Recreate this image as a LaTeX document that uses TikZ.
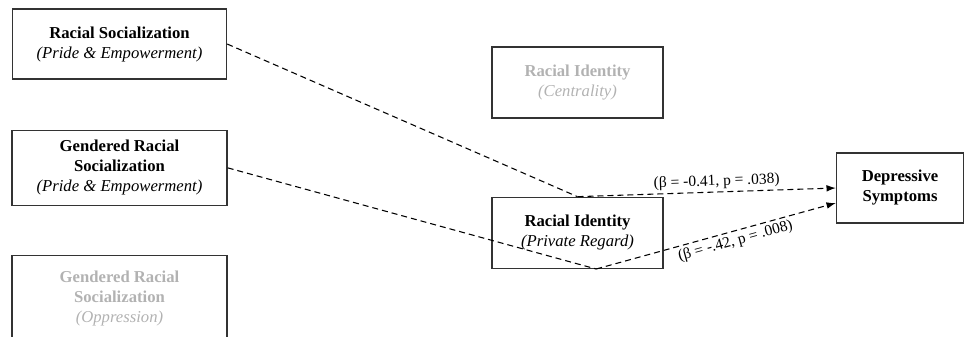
\documentclass[tikz,border=0pt]{standalone}
\usepackage{fontspec}
\setmainfont{Liberation Serif}
\usetikzlibrary{arrows.meta, positioning}

\begin{document}
\begin{tikzpicture}[
    x=0.75pt, y=-0.75pt,
    every node/.style={font=\fontsize{12.5}{15}\selectfont, align=center, inner sep=2pt},
    var/.style={draw=black!80, line width=1pt, minimum height=52.5pt},
    faded/.style={text=black!30},
    link/.style={dash pattern=on 4.5pt off 3pt, line width=0.8pt},
    effect/.style={link, -{Latex[length=7pt, width=5pt]}},
    coef/.style={font=\fontsize{11.6}{14}\selectfont, sloped},
]
\useasboundingbox (0,0) rectangle (966,336);
\clip (0,0) rectangle (966,336);

% Predictors
\node[var, minimum width=160.5pt] (racsoc) at (119.5,44)
    {\textbf{Racial Socialization}\\\textit{(Pride \& Empowerment)}};
\node[var, minimum width=161.25pt, minimum height=56.25pt, below=37.5pt of racsoc] (gensoc)
    {\textbf{Gendered Racial}\\\textbf{Socialization}\\\textit{(Pride \& Empowerment)}};
\node[var, faded, minimum width=161.25pt, minimum height=64.5pt, below=36.75pt of gensoc] (genopp)
    {\textbf{Gendered Racial}\\\textbf{Socialization}\\\textit{(Oppression)}};

% Mediators
\node[var, faded, minimum width=128.25pt, minimum height=53.25pt] (centr) at (577.5,82.5)
    {\textbf{Racial Identity}\\\textit{(Centrality)}};
\node[var, minimum width=128.25pt, minimum height=53.25pt, below=58.5pt of centr] (privreg)
    {\textbf{Racial Identity}\\\textit{(Private Regard)}};

% Outcome
\node[var, minimum width=95.25pt] (depress) at (900,188)
    {\textbf{Depressive}\\\textbf{Symptoms}};

\coordinate (bendtop) at (privreg.north);
\coordinate (bendbot) at ([xshift=14pt]privreg.south);
\coordinate (tiplow) at ([yshift=-11.25pt]depress.west);

% Paths
\draw[link] (racsoc.east) -- (bendtop);
\draw[effect] (bendtop) -- node[coef, above, pos=0.54] {(β = -0.41, p = .038)} (depress.west);
\draw[link] (gensoc.east) -- (bendbot);
\draw[effect] (bendbot) -- node[coef, below, pos=0.57] {(β = -.42, p = .008)} (tiplow);
\end{tikzpicture}
\end{document}
